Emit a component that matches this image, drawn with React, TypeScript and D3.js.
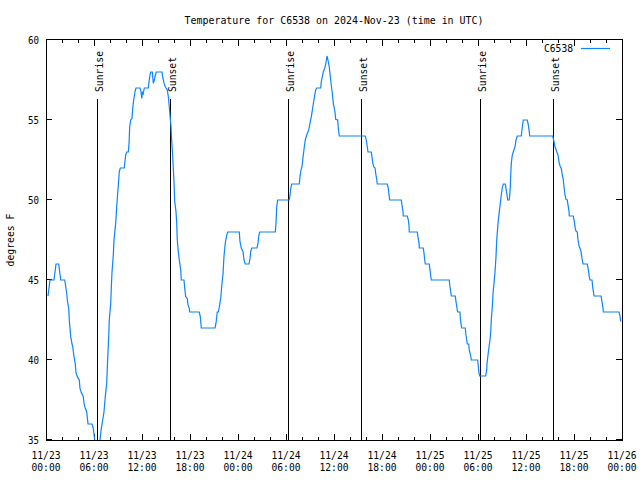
import React from "react";
import * as d3 from "d3";

// hours since 2024-11-23 00:00 UTC
const hours = [
  0.25, 0.5, 1.0, 1.25, 1.59, 1.84, 2.34, 2.59, 2.66, 2.84, 2.91, 3.09, 3.25, 3.34, 3.5, 3.66, 3.75, 3.91, 4.16, 4.25,
  4.41, 4.66, 4.75, 4.91, 5.09, 5.25, 5.75, 5.91, 6.09, 6.25, 6.63, 6.75, 6.91, 7.09, 7.25, 7.41, 7.59, 7.66, 7.75, 7.84,
  7.91, 8.09, 8.16, 8.25, 8.41, 8.5, 8.71, 8.84, 8.96, 9.09, 9.16, 9.29, 9.79, 9.84, 9.96, 10.09, 10.29, 10.38, 10.46, 10.59,
  10.75, 10.84, 10.96, 11.13, 11.25, 11.75, 11.88, 11.96, 12.09, 12.16, 12.29, 12.79, 12.88, 13.0, 13.09, 13.29, 13.34, 13.41, 13.54, 13.66,
  13.79, 14.5, 14.59, 14.75, 14.91, 15.16, 15.29, 15.41, 15.5, 15.63, 15.71, 15.84, 16.0, 16.09, 16.25, 16.34, 16.41, 16.54, 16.66, 16.84,
  16.91, 17.25, 17.34, 17.46, 17.66, 17.75, 17.91, 17.96, 19.16, 19.29, 19.41, 21.13, 21.25, 21.41, 21.54, 21.66, 21.84, 21.91, 22.0, 22.13,
  22.25, 22.41, 22.59, 22.71, 24.16, 24.25, 24.41, 24.63, 24.75, 24.91, 25.38, 25.5, 25.59, 25.71, 26.38, 26.5, 26.59, 26.71, 28.66, 28.75,
  28.84, 28.96, 30.41, 30.5, 30.59, 30.71, 31.66, 31.75, 31.88, 32.0, 32.16, 32.29, 32.41, 32.59, 32.84, 33.0, 33.16, 33.29, 33.41, 33.59,
  33.71, 33.84, 34.34, 34.41, 34.54, 34.66, 34.88, 35.0, 35.13, 35.25, 35.41, 35.5, 35.63, 35.79, 35.91, 36.13, 36.21, 36.46, 36.54, 36.66,
  39.91, 40.04, 40.16, 40.25, 40.66, 40.75, 40.84, 40.96, 41.13, 41.21, 41.34, 41.41, 42.66, 42.79, 42.88, 42.96, 44.41, 44.5, 44.63, 44.66,
  45.16, 45.29, 45.38, 45.41, 46.41, 46.5, 46.63, 46.66, 47.16, 47.25, 47.34, 47.41, 47.91, 48.0, 48.09, 48.16, 50.41, 50.5, 50.59, 50.66,
  51.16, 51.25, 51.38, 51.46, 51.75, 51.79, 51.88, 51.96, 52.41, 52.5, 52.59, 52.66, 52.84, 52.91, 53.09, 53.16, 53.96, 54.04, 54.13, 54.21,
  54.96, 55.09, 55.13, 55.25, 55.38, 55.5, 55.59, 55.66, 55.79, 55.88, 56.0, 56.13, 56.25, 56.34, 56.5, 56.66, 56.79, 56.91, 57.04, 57.16,
  57.41, 57.5, 57.63, 57.71, 57.91, 58.0, 58.04, 58.09, 58.16, 58.29, 58.41, 58.63, 58.75, 58.91, 59.41, 59.54, 59.66, 60.16, 60.29, 60.41,
  60.46, 63.34, 63.5, 63.63, 63.84, 64.0, 64.16, 64.29, 64.41, 64.54, 64.66, 64.75, 64.88, 65.0, 65.16, 65.25, 65.38, 65.41, 65.91, 66.04,
  66.16, 66.25, 66.41, 66.5, 66.63, 66.75, 66.88, 67.0, 67.13, 67.66, 67.79, 67.91, 68.0, 68.25, 68.34, 68.46, 68.5, 69.38, 69.5, 69.63,
  69.66, 71.63, 71.75, 71.84,
];

const temps = [
  44, 45, 45, 46, 46, 45, 45, 44.17, 43.75, 43.23, 42.5, 41.46, 41.0, 40.83, 40.21, 39.75, 39.21, 38.96, 38.75, 38.23,
  37.96, 37.71, 37.29, 36.98, 36.77, 36.0, 36.0, 35.73, 35.0, 34.5, 34.5, 35.0, 35.73, 36.25, 36.77, 37.71, 38.54, 39.48, 40.52, 41.46,
  42.5, 43.54, 44.48, 45.5, 46.54, 47.5, 48.54, 49.58, 50.42, 51.25, 51.77, 52.0, 52.0, 52.29, 52.81, 53.0, 53.0, 53.54, 54.58, 55.0,
  55.1, 55.73, 56.25, 56.77, 57.0, 57.0, 56.77, 56.35, 56.77, 56.67, 57.0, 57.0, 57.4, 57.8, 58.0, 58.0, 57.7, 57.3, 57.5, 57.8,
  58.0, 58.0, 57.7, 57.3, 57.08, 56.88, 56.46, 55.83, 55.3, 54.58, 53.75, 52.7, 51.1, 49.9, 49.27, 48.54, 47.5, 46.77, 46.25, 45.63,
  45.0, 45.0, 44.48, 43.96, 43.85, 43.44, 43.23, 43.0, 43.0, 42.7, 42.0, 42.0, 42.3, 43.0, 43.0, 43.3, 43.85, 44.27, 44.8, 45.4,
  46.5, 47.3, 47.8, 48.0, 48.0, 47.4, 47.0, 46.77, 46.25, 46.0, 46.0, 46.35, 46.77, 47.0, 47.0, 47.3, 47.75, 48.0, 48.0, 48.54,
  49.58, 50.0, 50.0, 50.3, 50.7, 51.0, 51.0, 51.46, 51.88, 52.08, 52.8, 53.33, 53.75, 54.06, 54.38, 54.8, 55.2, 55.6, 56.0, 56.56,
  56.88, 57.0, 57.0, 57.4, 57.7, 58.0, 58.3, 58.6, 59.0, 58.75, 58.3, 57.9, 57.3, 56.67, 56.04, 55.5, 55.04, 55.0, 54.48, 54.0,
  54.0, 53.75, 53.33, 53.0, 53.0, 52.7, 52.33, 52.08, 52.0, 51.67, 51.29, 51.0, 51.0, 50.73, 50.31, 50.0, 50.0, 49.69, 49.27, 49.0,
  49.0, 48.75, 48.38, 48.0, 48.0, 47.7, 47.29, 47.0, 47.0, 46.67, 46.25, 46.0, 46.0, 45.63, 45.25, 45.0, 45.0, 44.58, 44.27, 44.0,
  44.0, 43.65, 43.23, 43.0, 43.0, 42.6, 42.25, 42.0, 42.0, 41.56, 41.25, 41.0, 41.0, 40.63, 40.25, 40.0, 40.0, 39.58, 39.17, 39.0,
  39.0, 39.38, 39.79, 40.31, 40.83, 41.25, 41.77, 42.5, 43.33, 44.17, 44.79, 45.52, 46.46, 47.5, 48.54, 49.27, 49.79, 50.31, 50.79, 51.0,
  51.0, 50.73, 50.31, 50.0, 50.0, 50.52, 50.83, 51.56, 52.29, 52.81, 53.0, 53.33, 53.75, 54.0, 54.0, 54.58, 55.0, 55.0, 54.69, 54.27,
  54.0, 54.0, 53.65, 53.33, 53.02, 52.81, 52.29, 52.08, 51.98, 51.56, 51.29, 50.83, 50.31, 50.04, 50.0, 49.69, 49.27, 49.0, 49.0, 48.65,
  48.23, 48.06, 48.0, 47.5, 47.13, 46.98, 46.77, 46.35, 46.0, 46.0, 45.63, 45.21, 45.0, 45.0, 44.54, 44.17, 44.0, 44.0, 43.65, 43.23,
  43.0, 43.0, 42.75, 42.4,
];

const sunriseHours = [6.41, 30.29, 54.29];
const sunsetHours = [15.5, 39.41, 63.41];
const xTickHours = d3.range(0, 73, 6);
const xMinorHours = d3.range(0, 73, 2);
const yTicks = [35, 40, 45, 50, 55, 60];
const seriesName = "C6538";
const title = "Temperature for C6538 on 2024-Nov-23 (time in UTC)";
const yLabel = "degrees F";
const baseTime = Date.UTC(2024, 10, 23, 0, 0);

const FONT = "'DejaVu Sans Mono', monospace";
const CW = 6;

function T(props: any) {
  const { children, size, ...rest } = props;
  const s = String(children);
  return (
    <text
      fontFamily={FONT}
      fontSize={size || 11}
      textLength={s.length * CW - 1}
      lengthAdjust="spacingAndGlyphs"
      fill="#000"
      {...rest}
    >
      {s}
    </text>
  );
}

export default function App() {
  const W = 640, H = 480;
  const L = 46, R = 622, Tp = 40, B = 440;
  const x = d3.scaleLinear().domain([0, 72]).range([L, R]);
  const y = d3.scaleLinear().domain([35, 60]).range([B, Tp]);
  const data = hours.map((h, i) => [h, temps[i]] as [number, number]);
  const line = d3.line<[number, number]>().x((d) => x(d[0])).y((d) => y(d[1]));
  const fmtD = d3.utcFormat("%m/%d");
  const fmtT = d3.utcFormat("%H:%M");
  const px = (v: number) => Math.round(v) + 0.5;
  const majorLen = 6, minorLen = 3;

  return (
    <svg width={W} height={H} style={{ position: "absolute", left: 0, top: 0, background: "#fff" }}>
      <rect x={0} y={0} width={W} height={H} fill="#fff" />
      <defs>
        <clipPath id="plot">
          <rect x={L} y={Tp} width={R - L} height={B - Tp} />
        </clipPath>
      </defs>
      <T x={(L + R) / 2} y={23.5} textAnchor="middle">{title}</T>
      {/* event lines */}
      {sunriseHours.map((h, i) => (
        <g key={"sr" + i}>
          <line x1={px(x(h))} x2={px(x(h))} y1={99} y2={B} stroke="#000" strokeWidth={1} />
          <T transform={`translate(${x(h) + 5.5},92) rotate(-90)`} textAnchor="start">Sunrise</T>
        </g>
      ))}
      {sunsetHours.map((h, i) => (
        <g key={"ss" + i}>
          <line x1={px(x(h))} x2={px(x(h))} y1={99} y2={B} stroke="#000" strokeWidth={1} />
          <T transform={`translate(${x(h) + 5.5},92) rotate(-90)`} textAnchor="start">Sunset</T>
        </g>
      ))}
      {/* ticks */}
      {xMinorHours.map((h, i) => {
        const major = h % 6 === 0;
        const len = major ? majorLen : minorLen;
        const xx = px(x(h));
        return (
          <g key={"xt" + i}>
            <line x1={xx} x2={xx} y1={B} y2={B - len} stroke="#000" />
            <line x1={xx} x2={xx} y1={Tp} y2={Tp + len} stroke="#000" />
          </g>
        );
      })}
      {yTicks.map((v, i) => {
        const yy = px(y(v)) - 1;
        return (
          <g key={"yt" + i}>
            <line x1={L} x2={L + majorLen} y1={yy} y2={yy} stroke="#000" />
            <line x1={R} x2={R - majorLen} y1={yy} y2={yy} stroke="#000" />
            <T x={39} y={y(v) + 4} textAnchor="end">{String(v)}</T>
          </g>
        );
      })}
      {xTickHours.map((h, i) => {
        const d = new Date(baseTime + h * 3600000);
        const xx = Math.min(x(h), 636 - 15);
        return (
          <g key={"xl" + i}>
            <T size={10} x={x(h)} y={459} textAnchor="middle">{fmtD(d)}</T>
            <T size={10} x={x(h)} y={471} textAnchor="middle">{fmtT(d)}</T>
          </g>
        );
      })}
      <T transform={`translate(14,${(Tp + B) / 2}) rotate(-90)`} textAnchor="middle">{yLabel}</T>
      {/* data */}
      <path d={line(data) || ""} fill="none" stroke="#0a84ff" strokeWidth={1.2} clipPath="url(#plot)" />
      {/* legend */}
      <T x={573} y={52} textAnchor="end">{seriesName}</T>
      <line x1={581} x2={610} y1={48.5} y2={48.5} stroke="#0a84ff" strokeWidth={1.2} />
      {/* frame */}
      <rect x={L + 0.5} y={Tp - 0.5} width={R - L} height={B - Tp + 1} fill="none" stroke="#000" strokeWidth={1} />
    </svg>
  );
}
